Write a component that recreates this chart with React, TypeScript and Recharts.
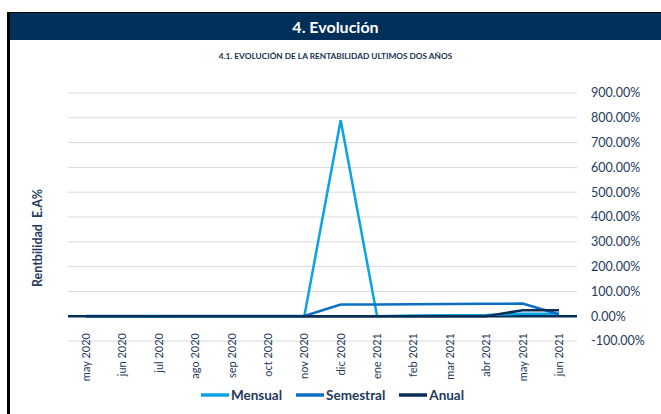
import { CartesianGrid, Line, LineChart, ReferenceLine, XAxis, YAxis } from "recharts";

const meses = [
  "may 2020", "jun 2020", "jul 2020", "ago 2020", "sep 2020", "oct 2020", "nov 2020",
  "dic 2020", "ene 2021", "feb 2021", "mar 2021", "abr 2021", "may 2021", "jun 2021",
];
const mensual = [0, 0, -2, 0, 0, 0, 0, 790, 0, 3, 4, 5, 10, 10];
const semestral = [1, 1, 1, 1, 1, 1, 1, 47, 47, 48, 49, 50, 51, 8];
const anual = [0, 0, 0, 0, 0, 0, 0, 0, 0, 0, 0, 0, 24, 24];
const yTicks = [-100, 0, 100, 200, 300, 400, 500, 600, 700, 800, 900];

const SERIES = [
  { key: "mensual", name: "Mensual", color: "#0AA3E3" },
  { key: "semestral", name: "Semestral", color: "#0B6FC4" },
  { key: "anual", name: "Anual", color: "#0B2E55" },
];

const NAVY = "#00305A";
const TEXT = "#1E3A5C";
const FONT = "Lato, 'Open Sans', sans-serif";

const data = meses.map((mes, i) => ({
  mes,
  mensual: mensual[i],
  semestral: semestral[i],
  anual: anual[i],
}));

function MonthTick({ x, y, payload }: any) {
  return (
    <text
      transform={`translate(${x + 4},${y - 16}) rotate(-90)`}
      textAnchor="end"
      fill={TEXT}
      fontSize={11}
      fontFamily={FONT}
    >
      {payload.value}
    </text>
  );
}

function ChartLegend() {
  return (
    <div
      style={{
        position: "absolute",
        top: 387,
        left: 2,
        width: 661,
        display: "flex",
        justifyContent: "center",
        gap: 14,
        fontFamily: FONT,
      }}
    >
      {SERIES.map((s) => (
        <div key={s.key} style={{ display: "flex", alignItems: "center" }}>
          <svg width={28} height={10}>
            <line x1={0} y1={5} x2={28} y2={5} stroke={s.color} strokeWidth={3.5} />
          </svg>
          <span style={{ fontSize: 13.5, fontWeight: 700, color: TEXT, marginLeft: 2 }}>{s.name}</span>
        </div>
      ))}
    </div>
  );
}

export default function App() {
  return (
    <div style={{ position: "fixed", left: 0, top: 0, width: 661, height: 414, background: "#fff", overflow: "hidden" }}>
      <div
        style={{
          position: "absolute",
          left: 7,
          top: 12,
          width: 660,
          height: 410,
          borderLeft: "3px solid #000",
          borderTop: "1px solid #000",
        }}
      />
      <div
        style={{
          position: "absolute",
          left: 10,
          top: 13,
          width: 651,
          height: 27,
          background: NAVY,
          color: "#fff",
          fontFamily: FONT,
          fontWeight: 700,
          fontSize: 16,
          lineHeight: "27px",
          textAlign: "center",
        }}
      >
        4. Evolución
      </div>
      <div
        style={{
          position: "absolute",
          left: 10,
          top: 51,
          width: 651,
          textAlign: "center",
          fontFamily: FONT,
          fontWeight: 700,
          fontSize: 8.3,
          color: "#16304F",
        }}
      >
        4.1. EVOLUCIÓN DE LA RENTABILIDAD ULTIMOS DOS AÑOS
      </div>
      <div
        style={{
          position: "absolute",
          left: 37,
          top: 238,
          transform: "translate(-50%, -50%) rotate(-90deg)",
          whiteSpace: "pre",
          fontFamily: FONT,
          fontWeight: 700,
          fontSize: 12.5,
          color: TEXT,
        }}
      >
        {"Rentbilidad  E.A%"}
      </div>
      <div style={{ position: "absolute", left: 0, top: 0 }}>
        <LineChart width={661} height={414} data={data} margin={{ top: 93, right: 0, bottom: 23, left: 68 }}>
          <CartesianGrid vertical={false} stroke="#D9D9D9" strokeWidth={1} />
          <XAxis
            dataKey="mes"
            height={50}
            padding={{ left: 18, right: 18 }}
            axisLine={false}
            tickLine={false}
            interval={0}
            tick={<MonthTick />}
          />
          <YAxis
            orientation="right"
            width={84}
            domain={[-100, 900]}
            ticks={yTicks}
            interval={0}
            axisLine={false}
            tickLine={false}
            tickMargin={8}
            tickFormatter={(v: number) => `${v.toFixed(2)}%`}
            tick={{ fill: TEXT, fontSize: 12.5, fontFamily: FONT, textAnchor: "start" }}
          />
          <ReferenceLine y={0} stroke={NAVY} strokeWidth={2.5} />
          {SERIES.map((s) => (
            <Line
              key={s.key}
              type="linear"
              dataKey={s.key}
              name={s.name}
              stroke={s.color}
              strokeWidth={2.5}
              dot={false}
              activeDot={false}
              isAnimationActive={false}
            />
          ))}
        </LineChart>
      </div>
      <ChartLegend />
    </div>
  );
}
